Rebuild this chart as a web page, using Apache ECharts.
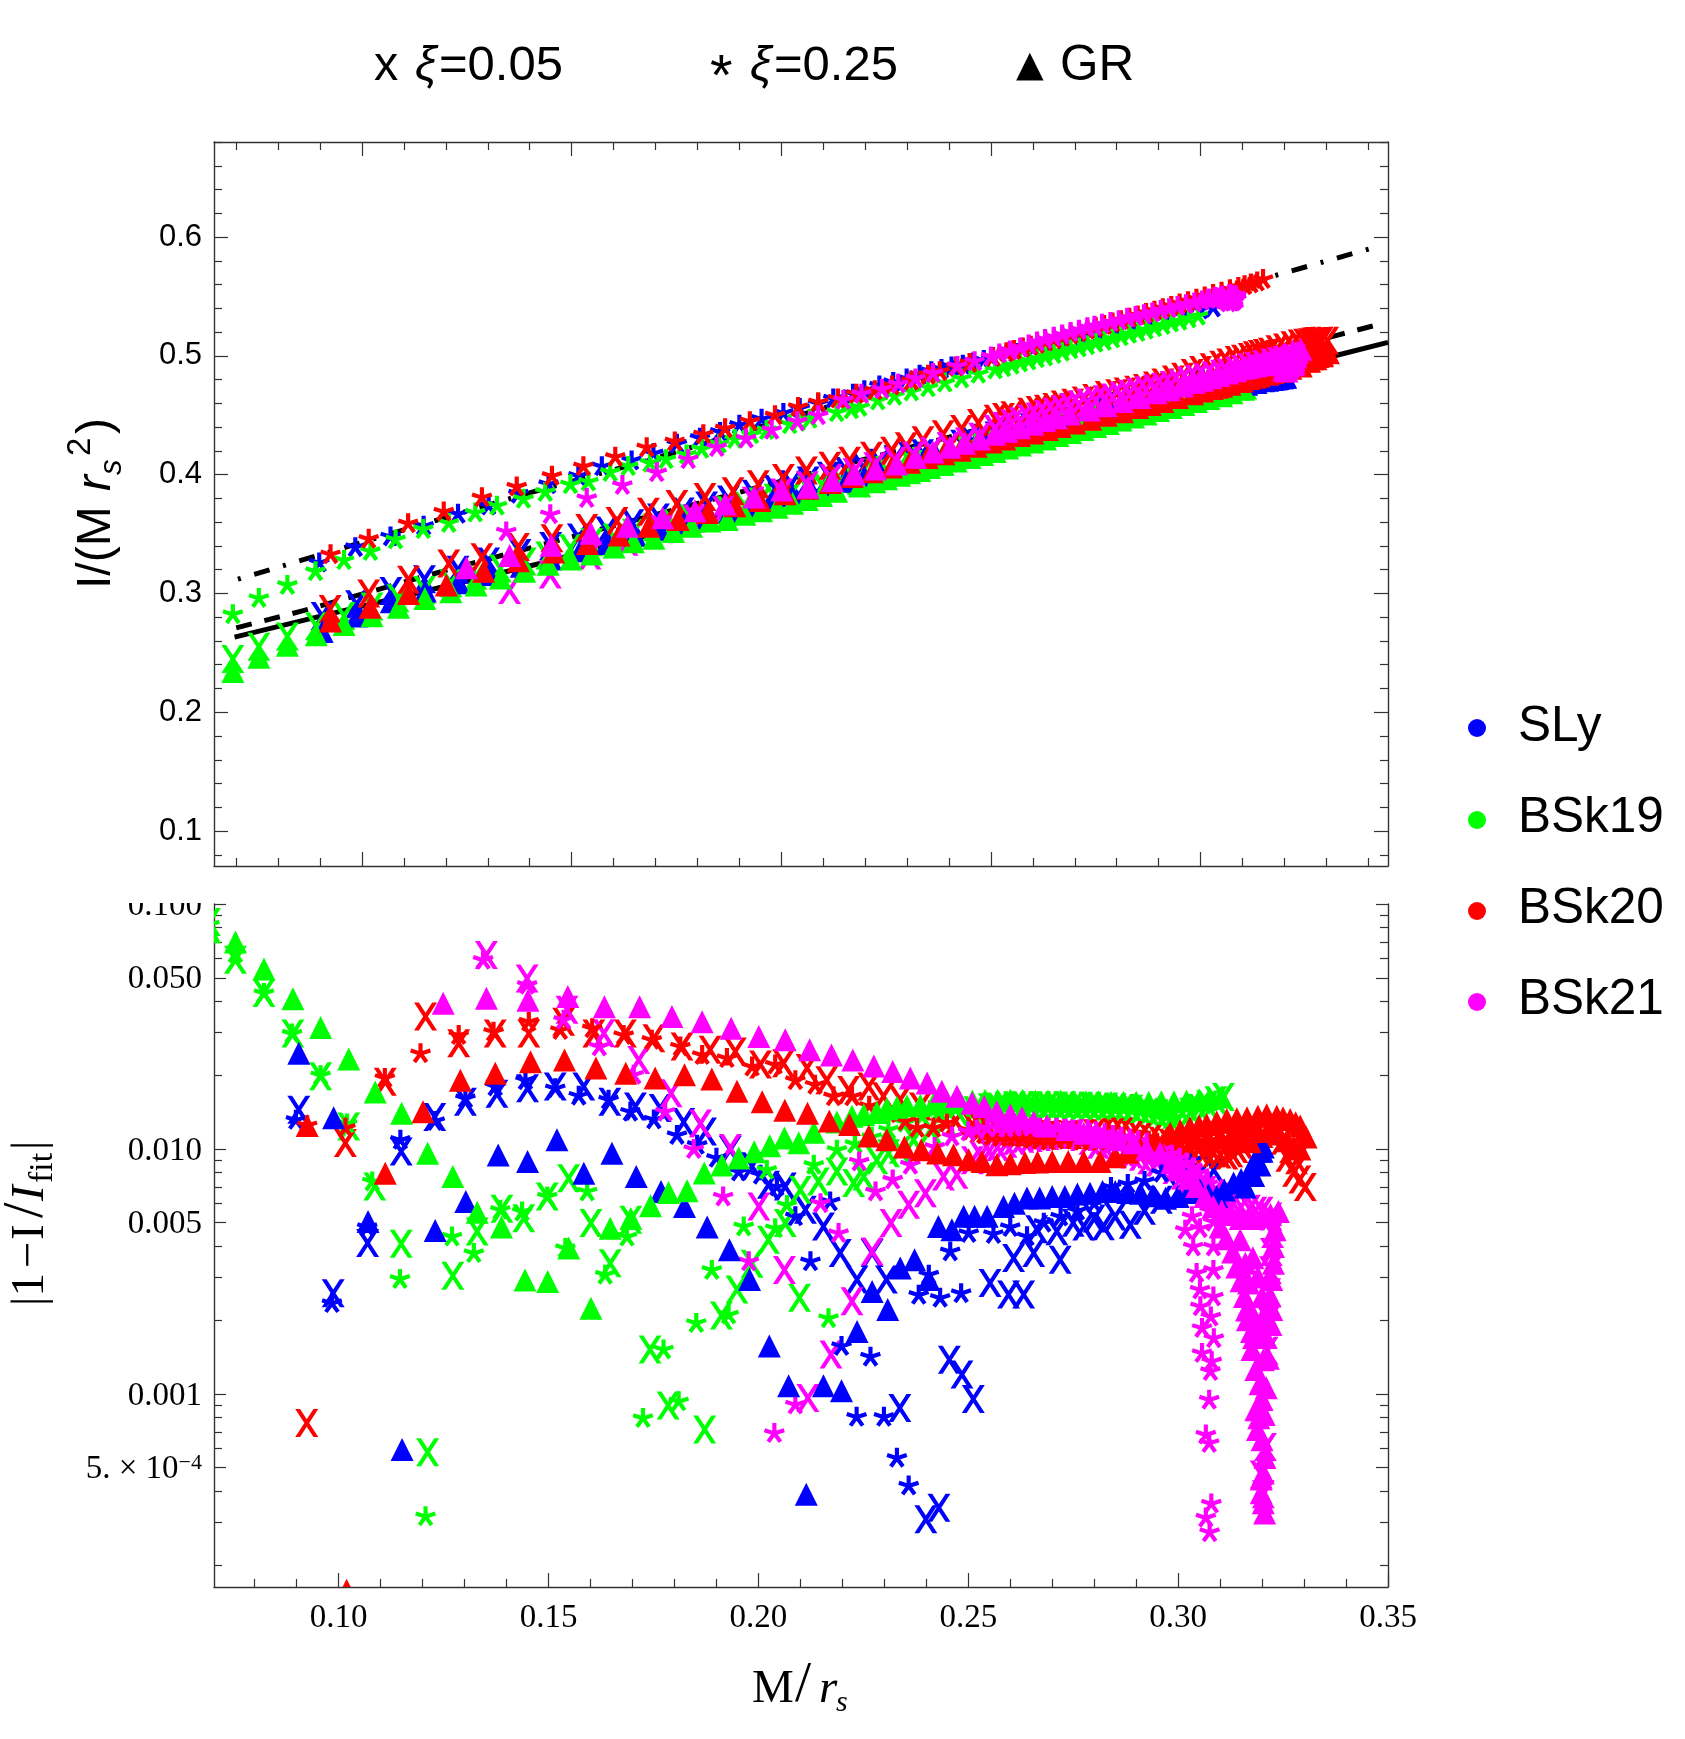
<!DOCTYPE html>
<html>
<head>
<meta charset="utf-8">
<title>I/(M rs^2) fits</title>
<script src="https://cdn.jsdelivr.net/npm/echarts@6/dist/echarts.min.js"></script>
<style>
  html, body { margin: 0; padding: 0; background: #fff; }
  #chart { width: 1685px; height: 1739px; }
</style>
</head>
<body>
<div id="chart"></div>
<script>
// every row is [M/rs, I/(M rs^2) of upper panel, |1-I/Ifit| of lower panel]

const slyX = [[.0905,.281,.01445],[.0987,.291,.00258],[.1069,.302,.00413],[.1149,.312,.00977],[.1229,.320,.0135],[.1302,.327,.0156],[.1377,.334,.0168],[.1450,.340,.0177],[.1516,.347,.018],[.1584,.353,.018],[.1646,.359,.0156],[.1707,.364,.0149],[.1766,.369,.0147],[.1822,.374,.0129],[.1874,.379,.0118],[.1933,.384,.00993],[.1985,.388,.0085],[.2024,.392,.00714],[.2064,.395,.00703],[.2112,.399,.00565],[.2155,.403,.00483],[.2195,.406,.00376],[.2235,.410,.00293],[.2271,.413,.00376],[.2305,.416,.00293],[.2337,.418,.000877],[.2399,.4235,.000308],[.2430,.426,.000343],[.2455,.428,.00138],[.2485,.431,.0012],[.2512,.433,.000955],[.2552,.436,.00284],[.2596,.440,.00255],[.2608,.441,.00359],[.2632,.443,.00255],[.2656,.445,.00376],[.2663,.4455,.0047],[.2711,.4495,.00462],[.2719,.450,.00353],[.2750,.453,.0050],[.2775,.455,.00483],[.2800,.457,.0052],[.2822,.459,.00484],[.2850,.461,.0053],[.2886,.464,.00491],[.2920,.467,.0056],[.2960,.470,.0062],[.3000,.473,.0068],[.3040,.476,.0074],[.3085,.479,.0082]];

const bsk19X = [[.0692,.2449,.0844],[.0754,.2551,.0592],[.0822,.2638,.0433],[.0891,.2725,.0296],[.0957,.2810,.0198],[.1024,.2890,.01236],[.1086,.2960,.00703],[.1149,.3030,.0041],[.1212,.3085,.000578],[.1272,.3150,.00304],[.1330,.3210,.00461],[.1389,.3270,.0057],[.1441,.3320,.00522],[.1497,.3380,.0064],[.1548,.3430,.0076],[.1601,.3470,.00499],[.1647,.3510,.00342],[.1696,.3555,.00514],[.1742,.3590,.00152],[.1785,.3630,.000897],[.1872,.3700,.000716],[.1912,.3740,.00209],[.1949,.3775,.00267],[.1985,.3805,.0034],[.2024,.3840,.00426],[.2064,.3875,.00499],[.2098,.3905,.00247],[.2100,.3907,.00682],[.2143,.3945,.00736],[.2187,.3985,.00809],[.2227,.4015,.00726],[.2251,.4040,.00772],[.2282,.4065,.0090],[.2310,.4090,.0096],[.2338,.4115,.00992],[.2370,.4140,.0109],[.2410,.4175,.012],[.2445,.4205,.0130],[.2480,.4235,.0138],[.2515,.4265,.0144],[.2550,.4295,.0148],[.2570,.4315,.0149],[.2590,.4330,.0150],[.2610,.4345,.0151],[.2630,.4365,.0151],[.2650,.4385,.0150],[.2670,.4400,.0151],[.2690,.4415,.0151],[.2710,.4430,.0150],[.2730,.4450,.0151],[.2750,.4465,.0150],[.2770,.4480,.0150],[.2790,.4500,.0150],[.2810,.4515,.0149],[.2830,.4530,.0149],[.2850,.4550,.0148],[.2870,.4565,.0147],[.2890,.4580,.0146],[.2910,.4595,.0144],[.2930,.4615,.0142],[.2950,.4630,.0140],[.2970,.4645,.0138],[.2990,.4660,.0138],[.3010,.4680,.0140],[.3030,.4695,.0142],[.3050,.4710,.0147],[.3070,.4725,.0152],[.3090,.4740,.0158],[.3108,.4750,.0163]];

const bsk20X = [[.0924,.287,.000762],[.1016,.300,.01057],[.1111,.3116,.0188],[.1207,.3252,.0347],[.1286,.3304,.027],[.1373,.3391,.0296],[.1453,.3464,.0296],[.1536,.3551,.0331],[.1608,.3609,.0296],[.1683,.3687,.0296],[.1751,.3754,.0283],[.1818,.3812,.0262],[.1885,.3861,.0254],[.1945,.3919,.025],[.2005,.3971,.0221],[.2060,.4034,.0224],[.2116,.4076,.0214],[.2163,.4118,.0191],[.2215,.4160,.0174],[.2263,.4202,.018],[.2298,.4240,.0164],[.2338,.4290,.0159],[.2386,.4340,.0149],[.2430,.4385,.0138],[.2470,.4435,.0130],[.2510,.4470,.0125],[.2530,.4485,.0122],[.2550,.4500,.0120],[.2590,.4530,.0118],[.2610,.4545,.0117],[.2630,.4555,.0118],[.2650,.4570,.0117],[.2670,.4590,.0116],[.2695,.4605,.0115],[.2720,.4625,.0114],[.2745,.4645,.0114],[.2775,.4670,.0115],[.2800,.4685,.0116],[.2820,.4700,.0116],[.2845,.4715,.0117],[.2866,.4730,.0118],[.2890,.4750,.0114],[.2910,.4775,.0112],[.2935,.4800,.0110],[.2957,.4825,.0108],[.2980,.4855,.0106],[.3000,.4880,.0104],[.3025,.4905,.0102],[.3048,.4925,.0100],[.3065,.4945,.0098],[.3085,.4965,.0096],[.3100,.4975,.0095],[.3116,.4990,.0094],[.3128,.5005,.0096],[.3140,.5015,.0100],[.3152,.5025,.0104],[.3164,.5035,.0108],[.3182,.5055,.0112],[.3200,.5070,.0115],[.3218,.5090,.0118],[.3235,.5105,.0120],[.3248,.5110,.0108],[.3259,.5115,.0092],[.3268,.5120,.0100],[.3275,.5125,.0080],[.3282,.5126,.0090],[.3290,.5128,.0075],[.3303,.5128,.0070]];

const bsk21X = [[.1352,.3029,.0619],[.1449,.3159,.0497],[.1544,.3320,.037],[.1632,.3435,.0297],[.1715,.3540,.0231],[.1792,.3630,.0169],[.1862,.3700,.0127],[.1933,.3780,.0101],[.2001,.3850,.00583],[.2062,.3910,.00321],[.2118,.3970,.000964],[.2173,.4020,.00145],[.2223,.4070,.00239],[.2271,.4115,.00382],[.2316,.4160,.00499],[.2358,.4200,.00592],[.2398,.4240,.0066],[.2441,.4280,.00772],[.2473,.4320,.00785],[.2510,.4385,.0090],[.2530,.4410,.0094],[.2550,.4430,.0098],[.2570,.4450,.0102],[.2590,.4470,.0105],[.2610,.4490,.0108],[.2630,.4510,.0110],[.2650,.4530,.0111],[.2670,.4550,.0112],[.2690,.4570,.0113],[.2710,.4590,.0114],[.2730,.4605,.0115],[.2750,.4620,.0116],[.2770,.4635,.0112],[.2790,.4650,.0108],[.2810,.4665,.0104],[.2830,.4680,.0100],[.2850,.4695,.0098],[.2870,.4710,.0097],[.2890,.4725,.0095],[.2910,.4740,.0093],[.2930,.4755,.0090],[.2950,.4770,.0088],[.2970,.4790,.0085],[.2990,.4805,.0082],[.3010,.4820,.0078],[.3030,.4835,.0075],[.3050,.4850,.0071],[.3065,.4860,.0068],[.3085,.4875,.0066],[.3100,.4890,.0064],[.3115,.4905,.0062],[.3132,.4915,.00601],[.3150,.4930,.0058],[.3170,.4945,.0057],[.3185,.4955,.0056],[.3200,.4965,.0056],[.3221,.4982,.0053],[.3225,.4975,.0045],[.3222,.4970,.0038],[.3220,.4965,.0032],[.3218,.4960,.0026],[.3215,.4955,.0020],[.3212,.4950,.0015],[.3208,.4945,.000607],[.3198,.4940,.000469],[.3203,.4935,.00039]];

const slyStar = [[.0898,.326,.01315],[.0984,.339,.00235],[.1068,.348,.0048],[.1147,.357,.0109],[.1229,.367,.0130],[.1302,.374,.0161],[.1373,.384,.018],[.1445,.392,.0191],[.1516,.399,.0177],[.1572,.407,.0165],[.1643,.412,.0159],[.1695,.418,.0142],[.1751,.426,.0132],[.1806,.431,.0114],[.1854,.436,.0104],[.1900,.442,.0092],[.1953,.447,.00809],[.2005,.452,.00785],[.2044,.456,.00703],[.2088,.460,.00531],[.2124,.464,.00348],[.2171,.468,.00611],[.2198,.471,.00157],[.2234,.475,.000807],[.2267,.478,.00142],[.2299,.481,.000807],[.2330,.484,.000549],[.2358,.487,.000423],[.2382,.489,.00254],[.2406,.491,.00307],[.2433,.4925,.00247],[.2457,.4945,.00382],[.2483,.4965,.00258],[.2501,.498,.00454],[.2560,.5025,.0045],[.2600,.506,.0048],[.2640,.509,.0044],[.2680,.5125,.0050],[.2720,.516,.0053],[.2760,.519,.0056],[.2800,.5225,.0060],[.2840,.526,.0070],[.2880,.5295,.0072],[.2920,.533,.0074],[.2960,.5365,.0080],[.3000,.539,.0086],[.3030,.5408,.0090]];

const bsk19Star = [[.0692,.2826,.0825],[.0754,.2962,.063],[.0822,.3072,.0433],[.0889,.3188,.0296],[.0957,.3281,.020],[.1020,.3357,.0127],[.1080,.3455,.00737],[.1146,.3542,.00295],[.1207,.3594,.000317],[.1270,.3681,.00439],[.1322,.3739,.00376],[.1385,.3797,.00565],[.1437,.3855,.00556],[.1497,.3919,.0064],[.1540,.3942,.00394],[.1592,.4023,.00671],[.1635,.4072,.00307],[.1687,.4101,.00439],[.1725,.4130,.000798],[.1774,.4170,.00152],[.1810,.4217,.000933],[.1852,.4260,.00195],[.1889,.4300,.00321],[.1929,.4340,.00211],[.1965,.4375,.00483],[.2020,.4425,.00822],[.2040,.4445,.00475],[.2068,.4470,.00591],[.2132,.4525,.00862],[.2167,.4550,.00204],[.2187,.4570,.00993],[.2230,.4625,.0105],[.2270,.4665,.0112],[.2310,.470,.0120],[.2350,.4735,.0128],[.2390,.4775,.0136],[.2430,.481,.0142],[.2470,.485,.0146],[.2510,.4885,.0148],[.2530,.4905,.0147],[.2550,.4925,.0148],[.2570,.4945,.0148],[.2590,.496,.0148],[.2610,.498,.0149],[.2630,.4995,.0148],[.2650,.5015,.0148],[.2670,.5035,.0148],[.2690,.5055,.0147],[.2710,.507,.0147],[.2730,.509,.0148],[.2750,.511,.0147],[.2770,.5125,.0147],[.2790,.5145,.0147],[.2810,.5165,.0148],[.2830,.5185,.0147],[.2850,.520,.0146],[.2870,.522,.0146],[.2890,.524,.0144],[.2910,.526,.0142],[.2930,.528,.0140],[.2950,.5295,.0138],[.2972,.5315,.0136],[.2994,.5338,.0135]];

const bsk20Star = [[.0925,.333,.0125],[.1016,.346,.0122],[.1110,.359,.0195],[.1195,.369,.0246],[.1286,.381,.0292],[.1369,.390,.0301],[.1453,.399,.0331],[.1528,.407,.0306],[.1604,.415,.0311],[.1679,.423,.0292],[.1746,.428,.0279],[.1814,.434,.0262],[.1866,.439,.0242],[.1925,.445,.0235],[.1985,.450,.0217],[.2040,.457,.0221],[.2088,.461,.0191],[.2135,.464,.0183],[.2179,.468,.0164],[.2223,.471,.0164],[.2264,.475,.0150],[.2310,.479,.0140],[.2350,.484,.0130],[.2378,.487,.0122],[.2417,.491,.0122],[.2449,.494,.0128],[.2505,.499,.0119],[.2537,.503,.0115],[.2555,.505,.0113],[.2576,.507,.0112],[.2595,.5085,.0112],[.2610,.510,.0112],[.2630,.512,.0111],[.2650,.514,.0110],[.2670,.516,.0109],[.2690,.518,.0108],[.2710,.520,.0109],[.2730,.522,.0110],[.2750,.524,.0109],[.2770,.526,.0108],[.2790,.528,.0108],[.2810,.530,.0108],[.2830,.532,.0110],[.2850,.534,.0112],[.2870,.536,.0111],[.2890,.538,.0110],[.2910,.540,.0109],[.2930,.542,.0108],[.2950,.544,.0106],[.2970,.546,.0104],[.2990,.548,.0102],[.3010,.550,.0100],[.3030,.552,.0100],[.3050,.554,.0100],[.3070,.556,.0101],[.3090,.558,.0102],[.3105,.5595,.0106],[.3120,.561,.0110],[.3135,.5625,.0115],[.3149,.5646,.0120]];

const bsk21Star = [[.1344,.3522,.0592],[.1449,.3667,.0468],[.1536,.3803,.0337],[.1621,.3913,.0262],[.1703,.4020,.0201],[.1778,.4130,.0142],[.1846,.4232,.0100],[.1916,.4304,.0064],[.1977,.4377,.00348],[.2038,.4449,.000693],[.2088,.4500,.000906],[.2148,.4630,.00601],[.2191,.4680,.00454],[.2240,.4720,.00889],[.2279,.4765,.00671],[.2320,.4810,.0075],[.2362,.4855,.00863],[.2420,.4915,.0102],[.2461,.4955,.01125],[.2500,.4995,.0118],[.2520,.502,.0120],[.2545,.5045,.0122],[.2570,.507,.0122],[.2590,.5095,.0122],[.2610,.512,.0123],[.2629,.5142,.0124],[.2650,.516,.0123],[.2670,.5180,.0122],[.2690,.520,.0122],[.2710,.5220,.0122],[.2730,.524,.0121],[.2747,.5254,.0120],[.2765,.527,.0120],[.2785,.5285,.0120],[.2805,.530,.0118],[.2825,.5320,.0116],[.2845,.5335,.0114],[.2865,.5350,.0112],[.2885,.5365,.0110],[.2905,.5385,.0108],[.2925,.540,.0106],[.2945,.5420,.0104],[.2965,.5435,.0100],[.2985,.5450,.0096],[.3003,.5465,.0092],[.3020,.5480,.0088],[.3035,.5495,.0084],[.3050,.5505,.0080],[.3071,.5520,.0072],[.3068,.5518,.0064],[.3075,.5512,.0056],[.3084,.5508,.00505],[.3052,.5500,.00475],[.3033,.5490,.00531],[.3017,.5480,.00468],[.3036,.5490,.004],[.3084,.5505,.004],[.3044,.5488,.00312],[.3084,.5495,.00321],[.3052,.5485,.00267],[.3084,.5490,.0025],[.3053,.5480,.00228],[.3078,.5485,.00207],[.3057,.5475,.00186],[.3085,.5480,.00169],[.3057,.5470,.00147],[.3080,.5475,.00136],[.3077,.5470,.00124],[.3074,.5465,.000948],[.3066,.5455,.000683],[.3074,.5460,.000631],[.3079,.5460,.000357],[.3066,.5450,.000313],[.3075,.5455,.000273]];

const slyGR = [[.0905,.268,.0246],[.0988,.281,.0134],[.1070,.293,.00506],[.1151,.302,.000593],[.1230,.309,.00465],[.1303,.316,.00611],[.1380,.323,.00946],[.1450,.329,.00889],[.1520,.336,.0109],[.1584,.342,.00796],[.1651,.349,.00961],[.1709,.354,.00772],[.1768,.359,.00671],[.1824,.364,.00583],[.1878,.369,.0048],[.1931,.374,.00388],[.1979,.378,.00293],[.2026,.3825,.00157],[.2072,.3865,.00108],[.2114,.391,.00039],[.2155,.3945,.00108],[.2198,.398,.00103],[.2235,.402,.0018],[.2271,.405,.00262],[.2308,.408,.00221],[.2338,.411,.00327],[.2372,.414,.00353],[.2406,.417,.00293],[.2429,.419,.00483],[.2461,.4215,.00468],[.2489,.424,.00531],[.2515,.426,.00531],[.2545,.429,.00531],[.2584,.432,.00583],[.2610,.4345,.00600],[.2640,.437,.00631],[.2670,.4395,.00631],[.2700,.442,.0064],[.2730,.4445,.0064],[.2760,.447,.00655],[.2790,.4495,.0066],[.2820,.452,.0067],[.2850,.4545,.0067],[.2880,.457,.00665],[.2910,.4595,.0066],[.2940,.462,.00645],[.2970,.4645,.0063],[.3000,.467,.0064],[.3025,.469,.00665],[.3052,.4715,.00682],[.3072,.473,.0065],[.3092,.475,.0064],[.3110,.476,.0068],[.3132,.4775,.00726],[.3150,.479,.0075],[.3160,.4795,.0070],[.3172,.480,.00822],[.3180,.4805,.0078],[.3185,.481,.0090],[.3195,.4815,.0086],[.3194,.4816,.0098],[.3200,.482,.0098],[.3203,.482,.0102]];

const bsk19GR = [[.0692,.2344,.077],[.0754,.2464,.0699],[.0822,.2565,.0543],[.0891,.2652,.0410],[.0957,.2739,.0313],[.1024,.2812,.0233],[.1087,.2884,.0171],[.1150,.2957,.0140],[.1212,.3014,.0096],[.1272,.3072,.00773],[.1330,.3130,.00552],[.1388,.3188,.0048],[.1444,.3246,.00292],[.1498,.3290,.00288],[.1548,.3333,.00394],[.1601,.3391,.00224],[.1647,.3435,.00475],[.1696,.3464,.0052],[.1743,.3522,.00586],[.1786,.3565,.00664],[.1830,.3609,.00675],[.1871,.3623,.00798],[.1913,.3667,.0086],[.1953,.3696,.00918],[.1990,.3725,.00975],[.2027,.3760,.0103],[.2062,.3790,.0111],[.2096,.3825,.0106],[.2132,.3860,.0117],[.2187,.3905,.0129],[.2223,.3940,.0136],[.2251,.3965,.0138],[.2282,.3995,.0141],[.2306,.4015,.0146],[.2330,.4035,.0148],[.2354,.4060,.0150],[.2386,.4085,.0151],[.2417,.4115,.0153],[.2450,.4145,.0155],[.2480,.4170,.0156],[.2510,.4195,.0157],[.2540,.4225,.0158],[.2570,.4250,.0158],[.2600,.4275,.0158],[.2630,.4300,.0158],[.2660,.4330,.0157],[.2690,.4355,.0157],[.2720,.4380,.0157],[.2750,.4405,.0156],[.2780,.4430,.0156],[.2810,.4460,.0156],[.2840,.4485,.0155],[.2870,.4510,.0155],[.2900,.4540,.0155],[.2930,.4565,.0155],[.2960,.4590,.0156],[.2990,.4615,.0156],[.3020,.4640,.0157],[.3050,.4665,.0159],[.3075,.4690,.0161],[.3103,.4718,.0163]];

const bsk20GR = [[.0925,.2768,.01246],[.1019,.2884,.000158],[.1111,.3000,.00796],[.1201,.3072,.0142],[.1290,.3188,.0191],[.1373,.3275,.0204],[.1457,.3348,.0227],[.1538,.3420,.0231],[.1613,.3493,.0214],[.1684,.3565,.0204],[.1754,.3623,.0195],[.1824,.3681,.0201],[.1889,.3739,.0193],[.1949,.3783,.0172],[.2009,.3840,.0156],[.2063,.3885,.0144],[.2117,.3935,.014],[.2169,.3985,.013],[.2217,.4025,.0126],[.2263,.4065,.0113],[.2306,.4105,.0109],[.2348,.4145,.0102],[.2388,.4175,.00992],[.2427,.4205,.00962],[.2465,.4240,.00947],[.2501,.4275,.00904],[.2533,.4300,.00889],[.2568,.4330,.00862],[.2600,.4350,.00870],[.2635,.4380,.00880],[.2665,.4405,.00885],[.2700,.4435,.00889],[.2738,.4466,.00889],[.2775,.4500,.00889],[.2814,.4530,.0089],[.2850,.4565,.0093],[.2880,.4590,.0097],[.2910,.4615,.0100],[.2945,.4650,.0108],[.2981,.4680,.0116],[.3005,.4705,.0119],[.3028,.4725,.0122],[.3040,.4735,.0110],[.3050,.4745,.0124],[.3070,.4760,.0112],[.3068,.4765,.0126],[.3092,.4785,.0129],[.3100,.4790,.0112],[.3116,.4810,.0132],[.3130,.4820,.0114],[.3140,.4830,.0133],[.3160,.4845,.0116],[.3164,.4855,.0134],[.3172,.4860,.0107],[.3190,.4880,.0136],[.3190,.4870,.0118],[.3211,.4900,.0138],[.3215,.4895,.0118],[.3235,.4925,.0136],[.3240,.4915,.0115],[.3250,.4957,.0134],[.3260,.4955,.0108],[.3267,.4975,.0132],[.3275,.4975,.0102],[.3280,.4995,.0128],[.3291,.5005,.0124],[.3290,.5000,.0100],[.3305,.5027,.0112]];

const bsk21GR = [[.1249,.3217,.0393],[.1352,.3319,.0412],[.1451,.3406,.0405],[.1546,.3507,.0419],[.1633,.3565,.0381],[.1717,.3638,.0381],[.1794,.3696,.0347],[.1866,.3754,.0331],[.1935,.3812,.0311],[.2001,.3870,.0288],[.2064,.3894,.0279],[.2122,.3950,.0254],[.2174,.4006,.0242],[.2225,.4048,.0231],[.2275,.4090,.0218],[.2320,.4146,.0207],[.2362,.4190,.0195],[.2402,.4230,.0186],[.2437,.4265,.0172],[.2473,.4300,.0164],[.2509,.4340,.0154],[.2538,.4365,.0149],[.2568,.4395,.0142],[.2600,.4425,.0138],[.2628,.4455,.0134],[.2656,.4480,.0129],[.2687,.4510,.0124],[.2735,.4545,.0120],[.2775,.4580,.0116],[.2814,.4615,.0112],[.2855,.4650,.0109],[.2894,.4690,.0106],[.2925,.4715,.0100],[.2957,.4746,.00962],[.2985,.4775,.0088],[.3005,.4795,.00822],[.3025,.4815,.0076],[.3044,.4835,.00703],[.3064,.4855,.0064],[.3084,.4875,.00583],[.3104,.4900,.0056],[.3124,.4925,.0054],[.3148,.4950,.0052],[.3175,.4985,.0052],[.3200,.5020,.0053],[.3220,.5045,.0054],[.3239,.5055,.00556],[.3231,.5030,.00468],[.3227,.5010,.004],[.3227,.4990,.00342],[.3223,.4970,.00293],[.3219,.4955,.00251],[.3223,.4940,.00221],[.3221,.4925,.00192],[.3210,.4910,.00106],[.3205,.4900,.000824],[.3203,.4890,.00138],[.3203,.4885,.000476],[.3198,.4880,.000395],[.3206,.4872,.000327],[.3100,.4895,.0048],[.3115,.4905,.0043],[.3130,.4915,.0038],[.3140,.4925,.0033],[.3148,.4925,.00426],[.3150,.4930,.0029],[.3158,.4935,.0025],[.3160,.4940,.00342],[.3163,.4935,.0022],[.3168,.4950,.00284],[.3168,.4945,.00228],[.3175,.4945,.0018],[.3178,.4950,.0036],[.3180,.4945,.0017],[.3187,.4960,.00189],[.3190,.4955,.0030],[.3200,.4960,.0025],[.3205,.4960,.0021],[.3195,.4955,.0018],[.3210,.4955,.0017],[.3215,.4950,.0014],[.3165,.4940,.00201],[.3176,.4945,.00152],[.3185,.4950,.00126],[.3195,.4950,.0011],[.3200,.4945,.00095],[.3185,.4945,.000863],[.3192,.4945,.0008],[.3189,.4950,.000716],[.3200,.4940,.00065],[.3207,.4935,.00055],[.3198,.4930,.00045],[.3203,.4925,.00036]];

// fit curves of the upper panel, [M/rs, I/(M rs^2)]
const fitXi025 = [[.0704,.312],[.1239,.3681],[.1408,.3855],[.1663,.4101],[.24,.4875],[.3176,.5674],[.3414,.5912],[.3423,.5926]];
const fitXi005 = [[.07,.271],[.086,.2855],[.12,.3195],[.20,.3945],[.3327,.5175],[.3423,.5262]];
const fitGR = [[.0696,.2632],[.0887,.2797],[.1417,.3246],[.1846,.3638],[.3318,.4999],[.3447,.5114]];

const xMajorTicks = [.10, .15, .20, .25, .30, .35];
const xMinorTicks = [.07, .08, .09, .11, .12, .13, .14, .16, .17, .18, .19, .21, .22, .23, .24, .26, .27, .28, .29, .31, .32, .33, .34];
const topMajorTicks = [.1, .2, .3, .4, .5, .6];
const topMinorTicks = [.08, .12, .14, .16, .18, .22, .24, .26, .28, .32, .34, .36, .38, .42, .44, .46, .48, .52, .54, .56, .58, .62, .64, .66, .68];
const logMajorTicks = [.1, .05, .01, .005, .001, .0005];
const logMajorLabels = ['0.100', '0.050', '0.010', '0.005', '0.001', '{m|5. × 10}{s|−4}'];
const logMinorTicks = [.09, .08, .07, .06, .04, .03, .02, .009, .008, .007, .006, .004, .003, .002, .0009, .0008, .0007, .0006, .0004, .0003, .0002];

const eosNames = ['SLy', 'BSk19', 'BSk20', 'BSk21'];
const eosColors = ['#0000ff', '#00ff00', '#ff0000', '#ff00ff'];

const SANS = '"Liberation Sans", Arial, sans-serif';
const SERIF = '"Liberation Serif", "Times New Roman", serif';

// marker glyphs
const X_PATH = 'M0 0L21 0L100 120L79 120ZM79 0L100 0L21 120L0 120Z';
const TRI_PATH = 'M50 0L100 100L0 100Z';
const STAR_PATH = [0, 72, 144, 216, 288].map(deg => {
  const a = deg * Math.PI / 180, s = Math.sin(a), c = Math.cos(a), w = 10;
  const p = [[-w * c, -w * s], [w * c, w * s], [w * c + 50 * s, w * s - 50 * c], [-w * c + 50 * s, -w * s - 50 * c]];
  return 'M' + p.map(q => (50 + q[0]).toFixed(1) + ' ' + (50 + q[1]).toFixed(1)).join('L') + 'Z';
}).join('');

const markerKinds = {
  x: { path: X_PATH, w: 23, h: 28 },
  star: { path: STAR_PATH, w: 21, h: 20 },
  tri: { path: TRI_PATH, w: 23, h: 23 }
};

const markerSeries = (name, rows, color, kind, panel) => {
  const m = markerKinds[kind];
  return {
    type: 'custom',
    name: name,
    xAxisIndex: panel === 0 ? 0 : 4,
    yAxisIndex: panel === 0 ? 0 : 4,
    clip: true,
    silent: true,
    z: 3,
    // lower panel is logarithmic, its axis runs in log10 of the value
    data: rows.map(r => panel === 0 ? [r[0], r[1]] : [r[0], Math.log10(r[2])]),
    encode: { x: 0, y: 1 },
    renderItem: (params, api) => {
      const p = api.coord([api.value(0), api.value(1)]);
      return {
        type: 'path',
        shape: { pathData: m.path, x: p[0] - m.w / 2, y: p[1] - m.h / 2, width: m.w, height: m.h, layout: 'cover' },
        style: { fill: color }
      };
    }
  };
};

const fitSeries = (name, rows, dash) => ({
  type: 'line',
  name: name,
  xAxisIndex: 0,
  yAxisIndex: 0,
  z: 1,
  data: rows,
  showSymbol: false,
  silent: true,
  lineStyle: { color: '#000', width: 5, type: dash, cap: 'butt' }
});

const LINE = '#333';
const axis = (gridIndex, position, min, max, ticks, len, showLine, label) => ({
  type: 'value',
  gridIndex: gridIndex,
  position: position,
  min: min,
  max: max,
  splitLine: { show: false },
  axisLine: { show: showLine, onZero: false, lineStyle: { color: LINE, width: 1.4 } },
  axisTick: { show: true, inside: true, length: len, customValues: ticks, lineStyle: { color: LINE, width: 1.2 } },
  axisLabel: label || { show: false }
});

const logMajor = logMajorTicks.map(Math.log10);
const logMinor = logMinorTicks.map(Math.log10);
const LOG_MIN = Math.log10(.000163);

const xLabel = {
  show: true, customValues: xMajorTicks, margin: 15, color: '#000',
  fontFamily: SERIF, fontSize: 33,
  formatter: v => v.toFixed(2)
};
const topLabel = {
  show: true, customValues: topMajorTicks, margin: 12, color: '#000',
  fontFamily: SANS, fontSize: 31, padding: [4, 0, 0, 0],
  formatter: v => v.toFixed(1)
};
const logLabel = {
  show: true, customValues: logMajor, margin: 12, color: '#000',
  fontFamily: SERIF, fontSize: 33, padding: [4, 0, 0, 0],
  formatter: v => logMajorLabels[logMajor.findIndex(t => Math.abs(t - v) < 1e-6)],
  rich: {
    m: { fontFamily: SERIF, fontSize: 33, color: '#000' },
    s: { fontFamily: SERIF, fontSize: 22, color: '#000', padding: [0, 0, 14, 0] }
  }
};

const TOP_X = [.0647, .3447];
const TOP_Y = [.0706, .68];
const BOT_X = [.0703, .35];

const xAxes = [
  axis(0, 'bottom', TOP_X[0], TOP_X[1], xMajorTicks, 14, true),
  axis(0, 'bottom', TOP_X[0], TOP_X[1], xMinorTicks, 8, false),
  axis(0, 'top', TOP_X[0], TOP_X[1], xMajorTicks, 14, true),
  axis(0, 'top', TOP_X[0], TOP_X[1], xMinorTicks, 8, false),
  axis(1, 'bottom', BOT_X[0], BOT_X[1], xMajorTicks, 14, true, xLabel),
  axis(1, 'bottom', BOT_X[0], BOT_X[1], xMinorTicks, 8, false)
];
const yAxes = [
  axis(0, 'left', TOP_Y[0], TOP_Y[1], topMajorTicks, 14, true, topLabel),
  axis(0, 'left', TOP_Y[0], TOP_Y[1], topMinorTicks, 8, false),
  axis(0, 'right', TOP_Y[0], TOP_Y[1], topMajorTicks, 14, true),
  axis(0, 'right', TOP_Y[0], TOP_Y[1], topMinorTicks, 8, false),
  axis(1, 'left', LOG_MIN, -1, logMajor, 12, true, logLabel),
  axis(1, 'left', LOG_MIN, -1, logMinor, 8, false),
  axis(1, 'right', LOG_MIN, -1, logMajor, 12, true),
  axis(1, 'right', LOG_MIN, -1, logMinor, 8, false)
];

const seriesSets = [
  ['x', [slyX, bsk19X, bsk20X, bsk21X]],
  ['star', [slyStar, bsk19Star, bsk20Star, bsk21Star]],
  ['tri', [slyGR, bsk19GR, bsk20GR, bsk21GR]]
];

const series = [
  fitSeries('fit xi=0.25', fitXi025, [3, 14, 16, 14]),
  fitSeries('fit xi=0.05', fitXi005, [16, 13]),
  fitSeries('fit GR', fitGR, 'solid')
];
[0, 1].forEach(panel => {
  seriesSets.forEach(([kind, sets]) => {
    sets.forEach((rows, i) => {
      series.push(markerSeries(eosNames[i] + ' ' + kind, rows, eosColors[i], kind, panel));
    });
  });
});

// text placed by its baseline; rot=true reads bottom to top
const txt = (text, bx, by, size, family, opts) => {
  const o = opts || {};
  const shift = 0.3465 * size;
  return {
    type: 'text',
    silent: true,
    z: 60,
    x: o.rot ? bx - shift : bx,
    y: o.rot ? by : by - shift,
    rotation: o.rot ? Math.PI / 2 : 0,
    style: {
      text: text,
      fontFamily: family,
      fontSize: size,
      fontStyle: o.italic ? 'italic' : 'normal',
      fill: '#000',
      align: 'left',
      verticalAlign: 'middle'
    }
  };
};

const legendTextY = [744, 835, 926, 1017];
const legendDotY = [728, 820, 911, 1002];

const graphics = [
  // the 0.100 label is cut by the top of the plot range
  { type: 'rect', silent: true, z: 50, shape: { x: 100, y: 870, width: 111, height: 33 }, style: { fill: '#fff' } },
  txt('x', 374, 83, 48.5, SANS),
  txt('ξ', 415, 83, 48.5, SANS, { italic: true }),
  txt('=0.05', 439, 83, 49, SANS),
  txt('*', 710, 99, 58, SANS),
  txt('ξ', 750, 83, 48.5, SANS, { italic: true }),
  txt('=0.25', 774, 83, 49, SANS),
  txt('▲', 1016, 79, 36, '"DejaVu Sans"'),
  txt('GR', 1060, 83, 49.5, SANS),
  // y title upper panel
  txt('I/(M', 113, 589, 48, SANS, { rot: true }),
  txt('r', 113, 491, 48, SANS, { rot: true, italic: true }),
  txt('s', 123, 475, 31, SANS, { rot: true, italic: true }),
  txt('2', 92, 456, 33, SANS, { rot: true }),
  txt(')', 113, 434, 48, SANS, { rot: true }),
  // y title lower panel
  txt('|1', 47, 1306, 47, SERIF, { rot: true }),
  txt('−', 47, 1268, 47, SERIF, { rot: true }),
  txt('I', 47, 1240, 47, SERIF, { rot: true }),
  txt('/', 47, 1218, 56, SERIF, { rot: true }),
  txt('I', 47, 1201, 47, SERIF, { rot: true, italic: true }),
  txt('fit', 55, 1183, 34, SERIF, { rot: true }),
  txt('|', 47, 1150, 47, SERIF, { rot: true }),
  // x title
  txt('M', 752, 1706, 47, SERIF),
  txt('/', 795, 1706, 58, SERIF),
  txt('r', 819, 1706, 47, SERIF, { italic: true }),
  txt('s', 836, 1714, 30, SERIF, { italic: true })
];
eosNames.forEach((name, i) => {
  graphics.push({ type: 'circle', silent: true, z: 60, shape: { cx: 1477, cy: legendDotY[i], r: 9 }, style: { fill: eosColors[i] } });
  graphics.push(txt(name, 1518, legendTextY[i], 49.5, SANS));
});

const chart = echarts.init(document.getElementById('chart'), null, { renderer: 'canvas' });
chart.setOption({
  backgroundColor: '#fff',
  animation: false,
  tooltip: { show: false },
  grid: [
    { left: 214, top: 142, width: 1174, height: 724 },
    { left: 214, top: 904, width: 1174, height: 683 }
  ],
  xAxis: xAxes,
  yAxis: yAxes,
  series: series,
  graphic: graphics
});
window.addEventListener('resize', function() { chart.resize(); });
</script>
</body>
</html>
